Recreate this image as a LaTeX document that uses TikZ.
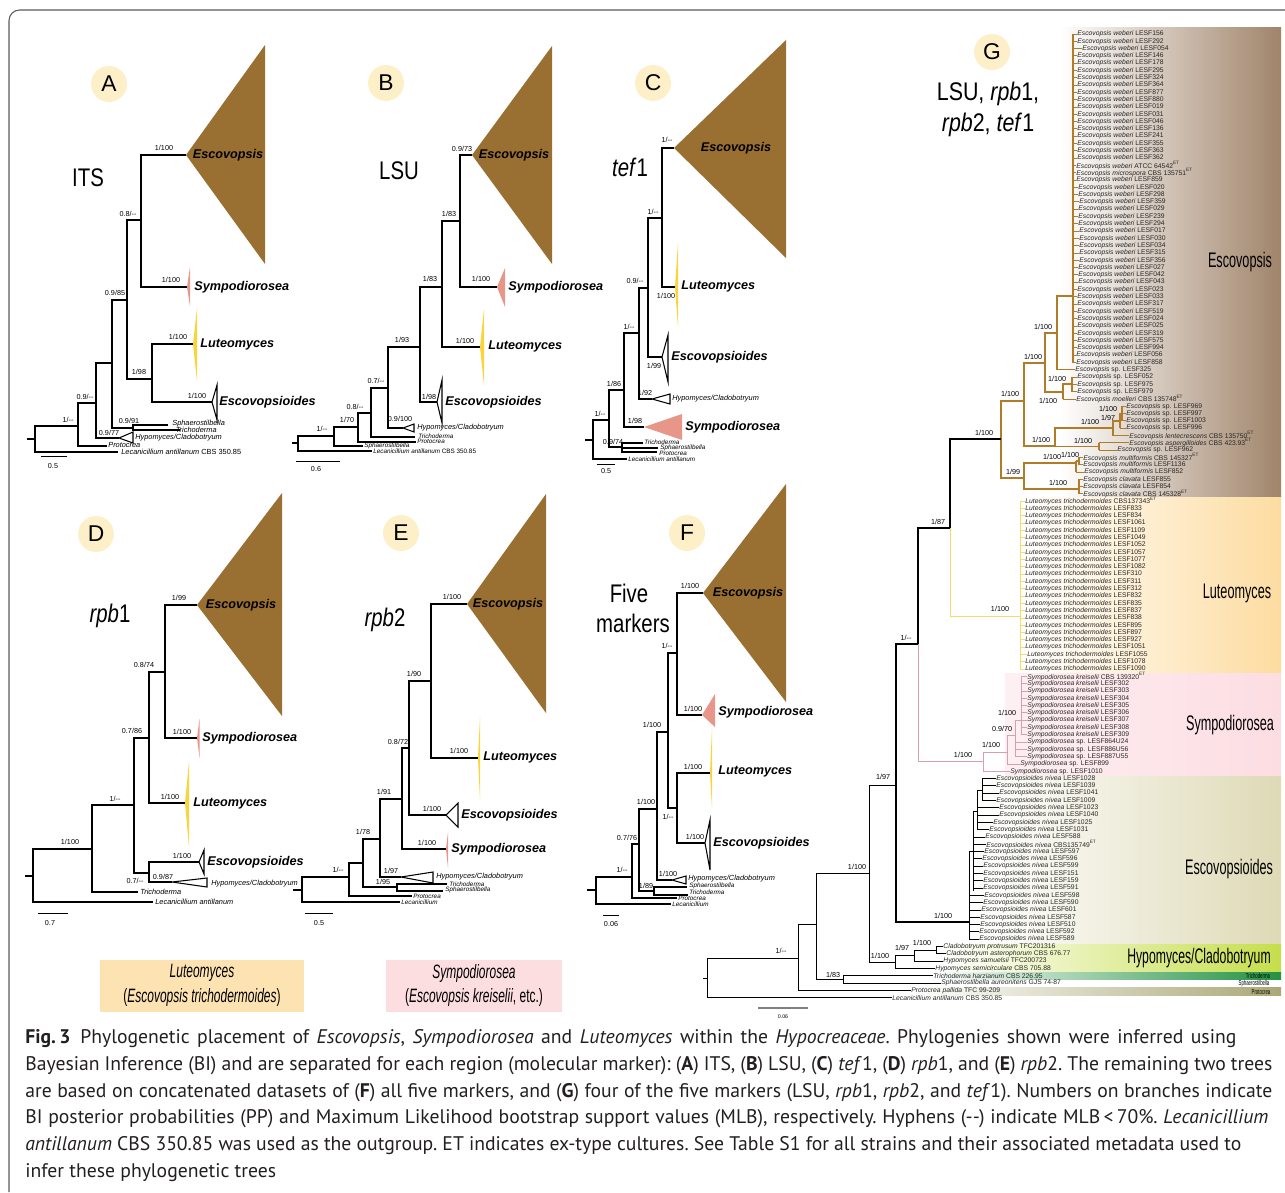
\documentclass[tikz,border=0pt]{standalone}
\usepackage{fontspec}
\setmainfont{Liberation Sans}
\newfontfamily\capfont{PT Sans}

\definecolor{escbrown}{RGB}{154,112,50}
\definecolor{sympink}{RGB}{233,150,138}
\definecolor{lutyellow}{RGB}{250,212,60}
\definecolor{circfill}{RGB}{253,240,200}
\definecolor{escline}{RGB}{176,124,40}
\definecolor{lutline}{RGB}{247,218,110}
\definecolor{symline}{RGB}{214,160,176}
\definecolor{escband}{RGB}{160,132,106}
\definecolor{lutband}{RGB}{253,220,160}
\definecolor{symband}{RGB}{252,221,226}
\definecolor{edsband}{RGB}{222,218,182}
\definecolor{hypband}{RGB}{198,222,74}
\definecolor{triband}{RGB}{34,146,66}
\definecolor{proband}{RGB}{170,168,118}
\definecolor{legendlut}{RGB}{253,226,178}
\definecolor{legendsym}{RGB}{252,221,224}
\definecolor{framegray}{RGB}{90,90,90}
\definecolor{captext}{RGB}{35,31,32}

\newcommand{\condtxt}[2][0.8]{\scalebox{#1}[1]{#2}}
\newcommand{\et}{\textsuperscript{ET}}
\newcommand{\nm}{-{}-}

\begin{document}
\begin{tikzpicture}[x=0.2mm, y=-0.2mm,
    br/.style={line width=0.7pt},
    gbr/.style={line width=0.55pt},
    circ/.style={circle, fill=circfill, minimum size=7.2mm, inner sep=0pt,
                 font=\fontsize{13}{13}\selectfont},
    ttl/.style={inner sep=0pt, font=\fontsize{14.5}{15}\selectfont},
    clade/.style={inner sep=0pt, font=\fontsize{7.2}{8}\selectfont\bfseries\itshape},
    sup/.style={inner sep=0pt, font=\fontsize{4.1}{5}\selectfont},
    tax/.style={anchor=west, inner sep=0pt, font=\fontsize{4.2}{5}\selectfont\itshape},
    tiny/.style={tax, font=\fontsize{3.6}{4}\selectfont\itshape},
    leaf/.style={anchor=west, inner sep=0pt, text=black!85, font=\fontsize{3.85}{4}\selectfont},
    grp/.style={inner sep=0pt, font=\fontsize{12}{12}\selectfont},
    scl/.style={line width=0.5pt},
    eds/.style={draw=black, fill=white, line width=0.6pt},
    legendtxt/.style={inner sep=0pt, align=center, font=\fontsize{11}{14}\selectfont},
    captxt/.style={anchor=west, inner sep=0pt, text=captext,
                   font=\capfont\fontsize{11.2}{13}\selectfont\frenchspacing}
]
\useasboundingbox (0,0) rectangle (1285,1192);

% frame
\draw[framegray, line width=0.6pt, rounded corners=6pt] (9,1192) -- (9,10) -- (1285,10);

% ---------------- A: ITS ----------------
\node[circ] (A) at (109,84) {A};
\node[ttl] (A-title) at (88,178) {\condtxt{ITS}};
\draw[br] (186,155) -| (141,287) -- (187,287);
\draw[br] (141,220) -| (127,379) -- (152,379);
\draw[br] (193,344) -| (152,402) -- (212,402);
\draw[br] (127,300) -| (112,428) -- (133,428);
\draw[br] (168,425) -| (133,430) -- (180,430);
\draw[br] (112,363) -| (96,438) -- (119,438);
\draw[br] (96,403) -| (78,446) -- (107,446);
\draw[br] (78,426) -| (35,452) -- (118,452);
\draw[br] (27,439) -- (35,439);
\fill[escbrown] (186,155) -- (265,45) -- (265,264) -- cycle;
\fill[sympink] (187,287) -- (190,267) -- (190,306) -- cycle;
\fill[lutyellow] (193,344) -- (197,308) -- (197,381) -- cycle;
\filldraw[eds] (212,402) -- (217,385) -- (217,420) -- cycle;
\filldraw[eds] (119,438) -- (133,432) -- (133,443) -- cycle;
\node[clade] (A-esc) at (228,155) {Escovopsis};
\node[clade, anchor=west] (A-sym) at (194,287) {Sympodiorosea};
\node[clade, anchor=west] (A-lut) at (200,344) {Luteomyces};
\node[clade, anchor=west] (A-eds) at (219,402) {Escovopsioides};
\node[tax] (A-sph) at (172,424) {Sphaerostilbella};
\node[tax, anchor=east] (A-tri) at (217,430) {Trichoderma};
\node[tax] (A-hyp) at (135,438) {Hypomyces/Cladobotryum};
\node[tax] (A-pro) at (108,445) {Protocrea};
\node[tax] (A-lec) at (121,452) {Lecanicillium antillanum \upshape CBS 350.85};
\draw[scl] (41,456) -- (67,456);
\node[sup] (A-bar) at (53,466) {0.5};
\foreach \x/\y/\t [count=\i] in {164/148/{1/100}, 128/214/{0.8/\nm}, 171/280/{1/100},
    115/293/{0.9/85}, 178/337/{1/100}, 139/372/{1/98}, 197/396/{1/100}, 85/397/{0.9/\nm},
    68/420/{1/\nm}, 129/421/{0.9/91}, 109/433/{0.9/77}}
  \node[sup] (A-s\i) at (\x,\y) {\t};

% ---------------- B: LSU ----------------
\node[circ] (B) at (386,83) {B};
\node[ttl] (B-title) at (399,171) {\condtxt{LSU}};
\draw[br] (472,155) -| (460,287) -- (497,287);
\draw[br] (460,221) -| (442,347) -- (480,347);
\draw[br] (442,287) -| (420,402) -- (437,402);
\draw[br] (420,347) -| (388,428) -- (403,428);
\draw[br] (388,388) -| (371,437) -- (415,437);
\draw[br] (371,413) -| (358,442) -- (416,442);
\draw[br] (358,427) -| (334,446) -- (363,446);
\draw[br] (334,436) -| (298,451) -- (372,451);
\draw[br] (292,443) -- (298,443);
\fill[escbrown] (472,155) -- (552,46) -- (552,264) -- cycle;
\fill[sympink] (497,287) -- (505,268) -- (505,307) -- cycle;
\fill[lutyellow] (480,347) -- (484,309) -- (484,385) -- cycle;
\filldraw[eds] (437,402) -- (442,380) -- (442,423) -- cycle;
\filldraw[eds] (403,428) -- (414,424) -- (414,432) -- cycle;
\node[clade] (B-esc) at (514,155) {Escovopsis};
\node[clade, anchor=west] (B-sym) at (508,287) {Sympodiorosea};
\node[clade, anchor=west] (B-lut) at (488,346) {Luteomyces};
\node[clade, anchor=west] (B-eds) at (445,402) {Escovopsioides};
\node[tax] (B-hyp) at (417,428) {Hypomyces/Cladobotryum};
\node[tiny] (B-tri) at (418,436.5) {Trichoderma};
\node[tiny] (B-pro) at (417,441.5) {Protocrea};
\node[tiny] (B-sph) at (364,446) {Sphaerostilbella};
\node[tiny] (B-lec) at (373,451) {Lecanicillium antillanum \upshape CBS 350.85};
\draw[scl] (296,461) -- (340,461);
\node[sup] (B-bar) at (316,469) {0.6};
\foreach \x/\y/\t [count=\i] in {462/149/{0.9/73}, 449/214/{1/83}, 481/279/{1/100},
    430/279/{1/83}, 465/341/{1/100}, 402/340/{1/93}, 429/397/{1/98}, 376/381/{0.7/\nm},
    400/419/{0.9/100}, 355/407/{0.8/\nm}, 347/420/{1/70}, 322/429/{1/\nm}}
  \node[sup] (B-s\i) at (\x,\y) {\t};

% ---------------- C: tef1 ----------------
\node[circ] (C) at (653,83) {C};
\node[ttl] (C-title) at (630,167) {\condtxt{\textit{tef}1}};
\draw[br] (674,148) -| (662,287) -- (675,287);
\draw[br] (662,218) -| (648,357) -- (662,357);
\draw[br] (648,288) -| (639,399) -- (652,399);
\draw[br] (639,333) -| (624,427) -- (644,427);
\draw[br] (624,390) -| (609,447) -- (622,447);
\draw[br] (643,443) -| (622,452) -- (657,452);
\draw[br] (622,448) -- (658,448);
\draw[br] (609,420) -| (593,459) -- (627,459);
\draw[br] (585,440) -- (593,440);
\fill[escbrown] (674,148) -- (786,40) -- (786,258) -- cycle;
\fill[lutyellow] (675,287) -- (678,243) -- (678,327) -- cycle;
\filldraw[eds] (662,357) -- (668,335) -- (668,382) -- cycle;
\filldraw[eds] (652,399) -- (670,394) -- (670,404) -- cycle;
\fill[sympink] (644,427) -- (682,414) -- (682,440) -- cycle;
\node[clade] (C-esc) at (736,148) {Escovopsis};
\node[clade, anchor=west] (C-lut) at (681,286) {Luteomyces};
\node[clade, anchor=west] (C-eds) at (671,357) {Escovopsioides};
\node[clade, anchor=west] (C-sym) at (685,427) {Sympodiorosea};
\node[tax] (C-hyp) at (672,399) {Hypomyces/Cladobotryum};
\node[tiny] (C-tri) at (644,442.5) {Trichoderma};
\node[tiny] (C-sph) at (660,448) {Sphaerostilbella};
\node[tiny] (C-pro) at (659,453.5) {Protocrea};
\node[tiny] (C-lec) at (628,459.5) {Lecanicillium antillanum};
\draw[scl] (597,464) -- (615,464);
\node[sup] (C-bar) at (606,471) {0.5};
\foreach \x/\y/\t [count=\i] in {667/140/{1/\nm}, 653/212/{1/\nm}, 666/296/{1/100},
    635/281/{0.9/\nm}, 654/366/{1/99}, 629/327/{1/\nm}, 645/393/{1/92}, 614/384/{1/86},
    635/421/{1/98}, 613/442/{0.9/74}, 600/414/{1/\nm}}
  \node[sup] (C-s\i) at (\x,\y) {\t};

% ---------------- D: rpb1 ----------------
\node[circ] (D) at (96,534) {D};
\node[ttl] (D-title) at (110,616) {\condtxt{\textit{rpb}1}};
\draw[br] (197,605) -| (165,738) -- (197,738);
\draw[br] (165,672) -| (149,803) -- (185,803);
\draw[br] (149,738) -| (134,873) -- (149,873);
\draw[br] (199,862) -| (149,882) -- (172,882);
\draw[br] (134,805) -| (92,892) -- (138,892);
\draw[br] (92,849) -| (33,902) -- (153,902);
\draw[br] (25,876) -- (33,876);
\fill[escbrown] (197,605) -- (282,493) -- (282,716) -- cycle;
\fill[sympink] (197,738) -- (199.5,719) -- (199.5,758) -- cycle;
\fill[lutyellow] (185,803) -- (189,762) -- (189,847) -- cycle;
\filldraw[eds] (199,862) -- (204,850) -- (204,874) -- cycle;
\filldraw[eds] (172,882) -- (207,878) -- (207,887) -- cycle;
\node[clade] (D-esc) at (241,605) {Escovopsis};
\node[clade, anchor=west] (D-sym) at (202,738) {Sympodiorosea};
\node[clade, anchor=west] (D-lut) at (193,803) {Luteomyces};
\node[clade, anchor=west] (D-eds) at (207,862) {Escovopsioides};
\node[tax] (D-hyp) at (211,884) {Hypomyces/Cladobotryum};
\node[tax] (D-tri) at (140,892) {Trichoderma};
\node[tax] (D-lec) at (155,902) {Lecanicillium antillanum};
\draw[scl] (38,913) -- (68,913);
\node[sup] (D-bar) at (50,923) {0.7};
\foreach \x/\y/\t [count=\i] in {179/598/{1/99}, 144/665/{0.8/74}, 182/732/{1/100},
    132/731/{0.7/86}, 170/797/{1/100}, 115/799/{1/\nm}, 70/842/{1/100}, 182/856/{1/100},
    135/881/{0.7/\nm}, 163/877/{0.9/87}}
  \node[sup] (D-s\i) at (\x,\y) {\t};

% ---------------- E: rpb2 ----------------
\node[circ] (E) at (401,533) {E};
\node[ttl] (E-title) at (385,620) {\condtxt{\textit{rpb}2}};
\draw[br] (467,604) -| (431,758) -- (478,758);
\draw[br] (431,681) -| (409,815) -- (446,815);
\draw[br] (409,748) -| (402,849) -- (446,849);
\draw[br] (402,799) -| (380,877) -- (401,877);
\draw[br] (380,839) -| (363,887) -- (397,887);
\draw[br] (447,884) -| (397,891) -- (443,891);
\draw[br] (363,863) -| (349,896) -- (412,896);
\draw[br] (349,877) -| (302,902) -- (400,902);
\draw[br] (293,890) -- (302,890);
\fill[escbrown] (467,604) -- (546,494) -- (546,713) -- cycle;
\fill[lutyellow] (478,758) -- (480,717) -- (480,800) -- cycle;
\filldraw[eds] (446,815) -- (458,803) -- (458,827) -- cycle;
\fill[sympink] (446,849) -- (448,832) -- (448,868) -- cycle;
\filldraw[eds] (401,877) -- (433,872) -- (433,883) -- cycle;
\node[clade] (E-esc) at (508,604) {Escovopsis};
\node[clade, anchor=west] (E-lut) at (483,757) {Luteomyces};
\node[clade, anchor=west] (E-eds) at (461,815) {Escovopsioides};
\node[clade, anchor=west] (E-sym) at (451,849) {Sympodiorosea};
\node[tax] (E-hyp) at (436,877) {Hypomyces/Cladobotryum};
\node[tiny] (E-tri) at (449,884) {Trichoderma};
\node[tiny] (E-sph) at (445,890) {Sphaerostilbella};
\node[tiny] (E-pro) at (413,896) {Protocrea};
\node[tiny] (E-lec) at (401,902) {Lecanicillium};
\draw[scl] (305,913) -- (333,913);
\node[sup] (E-bar) at (319,923) {0.5};
\foreach \x/\y/\t [count=\i] in {452/597/{1/100}, 414/674/{1/90}, 459/751/{1/100},
    398/742/{0.8/72}, 432/809/{1/100}, 384/792/{1/91}, 427/843/{1/100}, 363/832/{1/78},
    391/871/{1/97}, 383/882/{1/95}, 338/870/{1/\nm}}
  \node[sup] (E-s\i) at (\x,\y) {\t};

% ---------------- F: five markers ----------------
\node[circ] (F) at (687,533) {F};
\node[ttl] (F-title1) at (629,593) {\condtxt{Five}};
\node[ttl] (F-title2) at (633,623) {\condtxt{markers}};
\draw[br] (703,593) -| (677,715) -- (702,715);
\draw[br] (677,653) -| (668,808) -- (677,808);
\draw[br] (710,773) -| (677,843) -- (705,843);
\draw[br] (668,732) -| (657,880) -- (672,880);
\draw[br] (657,809) -| (639,891) -- (654,891);
\draw[br] (687,887) -| (654,895) -- (688,895);
\draw[br] (639,844) -| (632,898) -- (677,898);
\draw[br] (632,877) -| (596,904) -- (671,904);
\draw[br] (587,890) -- (596,890);
\fill[escbrown] (703,593) -- (786,484) -- (786,702) -- cycle;
\fill[sympink] (702,715) -- (715,694) -- (715,727) -- cycle;
\fill[lutyellow] (710,773) -- (712,728) -- (712,808) -- cycle;
\filldraw[eds] (705,843) -- (710,820) -- (710,870) -- cycle;
\filldraw[eds] (672,880) -- (686,876) -- (686,884) -- cycle;
\node[clade] (F-esc) at (748,593) {Escovopsis};
\node[clade, anchor=west] (F-sym) at (718,712) {Sympodiorosea};
\node[clade, anchor=west] (F-lut) at (718,771) {Luteomyces};
\node[clade, anchor=west] (F-eds) at (713,843) {Escovopsioides};
\node[tax] (F-hyp) at (688,879) {Hypomyces/Cladobotryum};
\node[tiny] (F-sph) at (689,886) {Sphaerostilbella};
\node[tiny] (F-tri) at (689,892) {Trichoderma};
\node[tiny] (F-pro) at (678,898) {Protocrea};
\node[tiny] (F-lec) at (672,904) {Lecanicillium};
\draw[scl] (603,915) -- (619,915);
\node[sup] (F-bar) at (611,924) {0.06};
\foreach \x/\y/\t [count=\i] in {690/586/{1/100}, 693/709/{1/100}, 667/646/{1/\nm},
    693/767/{1/100}, 668/817/{1/\nm}, 695/837/{1/100}, 652/725/{1/100}, 668/874/{1/100},
    646/802/{1/100}, 646/886/{1/89}, 627/838/{0.7/76}, 622/870/{1/\nm}}
  \node[sup] (F-s\i) at (\x,\y) {\t};

% ---------------- G: LSU, rpb1, rpb2, tef1 ----------------
% coloured clade bands
\shade[left color=white, right color=escband] (1060,27) rectangle (1281,497);
\shade[left color=white, right color=lutband] (1020,497) rectangle (1281,673);
\shade[left color=symband!45, right color=symband] (1005,673) rectangle (1281,776);
\shade[left color=white, right color=edsband] (975,776) rectangle (1281,944);
\shade[left color=white, right color=hypband] (940,944) rectangle (1281,972);
\shade[left color=white, right color=triband] (930,972) rectangle (1281,979.5);
\shade[left color=white, right color=proband] (910,987) rectangle (1281,995.5);

\node[circ] (G) at (992,52) {G};
\node[ttl] (G-title1) at (988,94) {\condtxt[0.84]{LSU, \textit{rpb}1,}};
\node[ttl] (G-title2) at (988,125) {\condtxt[0.84]{\textit{rpb}2, \textit{tef}1}};

\node[grp] (G-esc) at (1240,262) {\condtxt[0.6]{Escovopsis}};
\node[grp] (G-lut) at (1237,593) {\condtxt[0.6]{Luteomyces}};
\node[grp] (G-sym) at (1230,725) {\condtxt[0.6]{Sympodiorosea}};
\node[grp] (G-eds) at (1229,869) {\condtxt[0.6]{Escovopsioides}};
\node[grp] (G-hyp) at (1199,958) {\condtxt[0.58]{Hypomyces/Cladobotryum}};
\node[sup] (G-tri) at (1258,976) {\condtxt[0.6]{Trichoderma}};
\node[sup] (G-sph) at (1254,984) {\condtxt[0.6]{Sphaerostilbella}};
\node[sup] (G-pro) at (1261,992) {\condtxt[0.6]{Protocrea}};

% Escovopsis leaves
\foreach \px/\lx/\sp/\st [count=\i] in {
  1073/1077/Escovopsis weberi/LESF156, 1073/1077/Escovopsis weberi/LESF292,
  1073/1082/Escovopsis weberi/LESF054, 1073/1077/Escovopsis weberi/LESF146,
  1073/1077/Escovopsis weberi/LESF178, 1073/1077/Escovopsis weberi/LESF295,
  1073/1077/Escovopsis weberi/LESF324, 1073/1077/Escovopsis weberi/LESF364,
  1073/1077/Escovopsis weberi/LESF877, 1073/1077/Escovopsis weberi/LESF880,
  1073/1077/Escovopsis weberi/LESF019, 1073/1077/Escovopsis weberi/LESF031,
  1073/1077/Escovopsis weberi/LESF046, 1073/1077/Escovopsis weberi/LESF136,
  1073/1077/Escovopsis weberi/LESF241, 1073/1077/Escovopsis weberi/LESF355,
  1073/1077/Escovopsis weberi/LESF363, 1073/1077/Escovopsis weberi/LESF362,
  1073/1076/Escovopsis weberi/ATCC 64542\et, 1073/1076/Escovopsis microspora/CBS 135751\et,
  1073/1076/Escovopsis weberi/LESF859, 1073/1078/Escovopsis weberi/LESF020,
  1073/1078/Escovopsis weberi/LESF298, 1073/1079/Escovopsis weberi/LESF359,
  1073/1078/Escovopsis weberi/LESF029, 1073/1078/Escovopsis weberi/LESF239,
  1073/1078/Escovopsis weberi/LESF294, 1073/1079/Escovopsis weberi/LESF017,
  1073/1079/Escovopsis weberi/LESF030, 1073/1079/Escovopsis weberi/LESF034,
  1073/1079/Escovopsis weberi/LESF315, 1073/1079/Escovopsis weberi/LESF356,
  1073/1078/Escovopsis weberi/LESF027, 1073/1078/Escovopsis weberi/LESF042,
  1073/1078/Escovopsis weberi/LESF043, 1073/1077/Escovopsis weberi/LESF023,
  1073/1077/Escovopsis weberi/LESF033, 1073/1077/Escovopsis weberi/LESF317,
  1073/1077/Escovopsis weberi/LESF519, 1073/1077/Escovopsis weberi/LESF024,
  1073/1077/Escovopsis weberi/LESF025, 1073/1077/Escovopsis weberi/LESF319,
  1073/1077/Escovopsis weberi/LESF575, 1073/1077/Escovopsis weberi/LESF994,
  1073/1076/Escovopsis weberi/LESF056, 1073/1076/Escovopsis weberi/LESF858,
  1057/1075/Escovopsis/sp. LESF325, 1072/1077/Escovopsis/sp. LESF052,
  1072/1077/Escovopsis/sp. LESF975, 1072/1077/Escovopsis/sp. LESF979,
  1063/1076/Escovopsis moelleri/CBS 135748\et, 1122/1126/Escovopsis/sp. LESF969,
  1122/1126/Escovopsis/sp. LESF997, 1122/1126/Escovopsis/sp. LESF1003,
  1120/1126/Escovopsis/sp. LESF996, 1113/1129/Escovopsis lentecrescens/CBS 135750\et,
  1099/1129/Escovopsis aspergilloides/CBS 423.93\et, 1099/1117/Escovopsis/sp. LESF962,
  1079/1083/Escovopsis multiformis/CBS 145327\et, 1079/1083/Escovopsis multiformis/LESF1136,
  1076/1084/Escovopsis multiformis/LESF852, 1079/1083/Escovopsis clavata/LESF855,
  1079/1083/Escovopsis clavata/LESF854, 1079/1083/Escovopsis clavata/CBS 145328\et}{
  \pgfmathsetmacro\yy{34+7.3*(\i-1)}
  \node[leaf] (ge\i) at (\lx,\yy) {\textit{\sp} \st};
  \draw[gbr, escline] (\px,\yy) -- (ge\i.west);
}

% Luteomyces leaves
\foreach \lx/\st [count=\i] in {1025/CBS137343\et, 1025/LESF833, 1025/LESF834, 1025/LESF1061,
  1025/LESF1109, 1025/LESF1049, 1025/LESF1052, 1025/LESF1057, 1025/LESF1077, 1025/LESF1082,
  1025/LESF310, 1025/LESF311, 1025/LESF312, 1025/LESF832, 1025/LESF835, 1025/LESF837,
  1025/LESF838, 1025/LESF895, 1025/LESF897, 1025/LESF927, 1025/LESF1051, 1027/LESF1055,
  1025/LESF1078, 1025/LESF1090}{
  \pgfmathsetmacro\yy{34+7.3*(\i+63)}
  \node[leaf] (gl\i) at (\lx,\yy) {\textit{Luteomyces trichodermoides} \st};
  \draw[gbr, lutline] (1020,\yy) -- (gl\i.west);
}

% Sympodiorosea leaves
\foreach \px/\lx/\sp/\st [count=\i] in {1021/1027/Sympodiorosea kreiselii/CBS 139320\et,
  1021/1027/Sympodiorosea kreiselii/LESF302, 1021/1027/Sympodiorosea kreiselii/LESF303,
  1021/1027/Sympodiorosea kreiselii/LESF304, 1021/1027/Sympodiorosea kreiselii/LESF305,
  1021/1027/Sympodiorosea kreiselii/LESF306, 1021/1027/Sympodiorosea kreiselii/LESF307,
  1021/1027/Sympodiorosea kreiselii/LESF308, 1021/1027/Sympodiorosea kreiselii/LESF309,
  1015/1027/Sympodiorosea/sp. LESF864U24, 1015/1027/Sympodiorosea/sp. LESF886U56,
  1015/1027/Sympodiorosea/sp. LESF887U55, 1007/1020/Sympodiorosea/sp. LESF899,
  983/1010/Sympodiorosea/sp. LESF1010}{
  \pgfmathsetmacro\yy{34+7.3*(\i+87)}
  \node[leaf] (gs\i) at (\lx,\yy) {\textit{\sp} \st};
  \draw[gbr, symline] (\px,\yy) -- (gs\i.west);
}

% Escovopsioides leaves
\foreach \px/\lx/\st [count=\i] in {982/996/LESF1028, 982/996/LESF1039, 982/999/LESF1041,
  982/996/LESF1009, 977/999/LESF1023, 977/999/LESF1040, 977/993/LESF1025, 977/989/LESF1031,
  973/985/LESF588, 973/986/CBS135749\et, 973/984/LESF597, 973/982/LESF596, 973/983/LESF599,
  973/983/LESF151, 973/983/LESF159, 973/983/LESF591, 969/984/LESF598, 969/983/LESF590,
  969/981/LESF601, 969/980/LESF587, 969/980/LESF510, 969/979/LESF592, 969/979/LESF589}{
  \pgfmathsetmacro\yy{34+7.3*(\i+101)}
  \node[leaf] (gd\i) at (\lx,\yy) {\textit{Escovopsioides nivea} \st};
  \draw[gbr] (\px,\yy) -- (gd\i.west);
}

% outgroup leaves
\foreach \px/\lx/\sp/\st [count=\i] in {936/943/Cladobotryum protrusum/TFC201316,
  936/946/Cladobotryum asterophorum/CBS 676.77, 914/943/Hypomyces samuelsii/TFC200723,
  895/935/Hypomyces semicirculare/CBS 705.88, 843/933/Trichoderma harzianum/CBS 226.95,
  843/941/Sphaerostilbella aureonitens/GJS 74-87, 798/911/Protocrea pallida/TFC 99-209,
  707/892/Lecanicillium antillanum/CBS 350.85}{
  \pgfmathsetmacro\yy{34+7.3*(\i+124)}
  \node[leaf] (go\i) at (\lx,\yy) {\textit{\sp} \st};
  \draw[gbr] (\px,\yy) -- (go\i.west);
}

% Escovopsis inner branches
\begin{scope}[gbr, escline, line width=0.7pt]
\draw (1073,34) -- (1073,362.5);
\draw (1073,296) -| (1057,369.8);
\draw (1072,377.1) -- (1072,391.7);
\draw (1072,384) -| (1063,399);
\draw (1063,392) -| (1045,333) -- (1057,333);
\draw (1045,363) -| (1024,446) -- (1055,446);
\draw (1122,406.3) -- (1122,420.9);
\draw (1122,413.6) -| (1120,428.2);
\draw (1120,421) -| (1113,435.5);
\draw (1113,428) -| (1055,446.5) -- (1099,446.5);
\draw (1099,442.8) -- (1099,450.1);
\draw (1024,401) -| (1001,478) -- (1024,478);
\draw (1076,463) -| (1024,489) -- (1079,489);
\draw (1076,461) -- (1076,472);
\draw (1079,461) -- (1076,461);
\draw (1079,457.4) -- (1079,464.7);
\draw (1079,479.3) -- (1079,493.9);
\end{scope}

% backbone
\draw[gbr, line width=0.8pt] (1001,439) -- (950,439) -- (950,528) -- (918,528) -- (918,644);
\draw[gbr, lutline] (950,528) -- (950,616) -- (1020,616);
\draw[gbr, lutline] (1020,501) -- (1020,669);
\draw[gbr, symline] (918,644) -- (918,761) -- (983,761);
\draw[gbr, symline] (1007,752) -| (983,771.3);
\draw[gbr, symline] (1015,735) -| (1007,764);
\draw[gbr, symline] (1021,720) -| (1015,756.7);
\draw[gbr, symline] (1021,676.4) -- (1021,734.8);
\draw[gbr, line width=0.8pt] (918,644) -- (896,644) -- (896,922) -- (969,922);
\draw[gbr] (969,851) -- (969,939.3);
\draw[gbr] (969,851) -| (973,811);
\draw[gbr] (973,811) -- (973,890.6);
\draw[gbr] (973,811) -| (977,790);
\draw[gbr] (977,790) -- (977,830);
\draw[gbr] (977,790) -- (982,790);
\draw[gbr] (982,778.6) -- (982,800.5);
\draw[gbr] (896,785) -- (869,785) -- (869,962) -- (895,962);
\draw[gbr] (895,955.5) -- (895,968.4);
\draw[gbr] (895,955.5) -- (914,955.5);
\draw[gbr] (936,950) -| (914,961.1);
\draw[gbr] (936,946.5) -- (936,953.8);
\draw[gbr] (869,873) -| (816,979.3) -- (843,979.3);
\draw[gbr] (843,975.7) -- (843,983);
\draw[gbr] (816,924) -| (798,990.3);
\draw[gbr] (798,958) -| (707,997.6);
\draw[gbr] (703,978) -- (707,978);
\draw[gray, line width=1.3pt] (758,1008) -- (808,1008);
\node[sup, font=\fontsize{3}{3}\selectfont] (G-bar) at (783,1017) {0.06};

\foreach \x/\y/\t [count=\i] in {781/951/{1/\nm}, 833/975/{1/83}, 857/867/{1/100}, 883/777/{1/97},
    880/956/{1/100}, 902/948/{1/97}, 922/943/{1/100}, 906/638/{1/\nm}, 943/916/{1/100},
    938/522/{1/87}, 984/433/{1/100}, 1000/609/{1/100}, 963/755/{1/100}, 991/745/{1/100},
    1002/729/{0.9/70}, 1007/713/{1/100}, 1010/394/{1/100}, 1013/472/{1/99}, 1033/357/{1/100},
    1043/327/{1/100}, 1057/379/{1/100}, 1048/401/{1/100}, 1041/440/{1/100}, 1090/422/{1/100},
    1108/418/{1/97}, 1108/409/{1/100}, 1083/441/{1/100}, 1052/457/{1/100}, 1070/455/{1/100},
    1058/483/{1/100}}
  \node[sup] (G-s\i) at (\x,\y) {\t};

% legend boxes
\fill[legendlut] (100,960) rectangle (304,1012);
\fill[legendsym] (386,960) rectangle (562,1012);
\node[legendtxt] (leg-lut1) at (202,973) {\condtxt[0.62]{\textit{Luteomyces}}};
\node[legendtxt] (leg-lut2) at (202,997) {\condtxt[0.62]{(\textit{Escovopsis trichodermoides})}};
\node[legendtxt] (leg-sym1) at (474,973) {\condtxt[0.62]{\textit{Sympodiorosea}}};
\node[legendtxt] (leg-sym2) at (474,997) {\condtxt[0.62]{(\textit{Escovopsis kreiselii}, etc.)}};

% caption
\node[captxt] (cap1) at (25,1039) {\makebox[242.2mm][s]{\textbf{Fig.\,3}\enspace Phylogenetic placement of \textit{Escovopsis}, \textit{Sympodiorosea} and \textit{Luteomyces} within the \textit{Hypocreaceae}. Phylogenies shown were inferred using}};
\node[captxt] (cap2) at (25,1066) {\makebox[249.4mm][s]{Bayesian Inference (BI) and are separated for each region (molecular marker): (\textbf{A}) ITS, (\textbf{B}) LSU, (\textbf{C}) \textit{tef}1, (\textbf{D}) \textit{rpb}1, and (\textbf{E}) \textit{rpb}2. The remaining two trees}};
\node[captxt] (cap3) at (25,1093) {\makebox[249.4mm][s]{are based on concatenated datasets of (\textbf{F}) all five markers, and (\textbf{G}) four of the five markers (LSU, \textit{rpb}1, \textit{rpb}2, and \textit{tef}1). Numbers on branches indicate}};
\node[captxt] (cap4) at (25,1119) {\makebox[248.6mm][s]{BI posterior probabilities (PP) and Maximum Likelihood bootstrap support values (MLB), respectively. Hyphens (\nm) indicate MLB\,<\,70\%. \textit{Lecanicillium}}};
\node[captxt] (cap5) at (25,1146) {\makebox[243.2mm][s]{\textit{antillanum} CBS 350.85 was used as the outgroup. ET indicates ex-type cultures. See Table S1 for all strains and their associated metadata used to}};
\node[captxt] (cap6) at (25,1173) {infer these phylogenetic trees};
\end{tikzpicture}
\end{document}
